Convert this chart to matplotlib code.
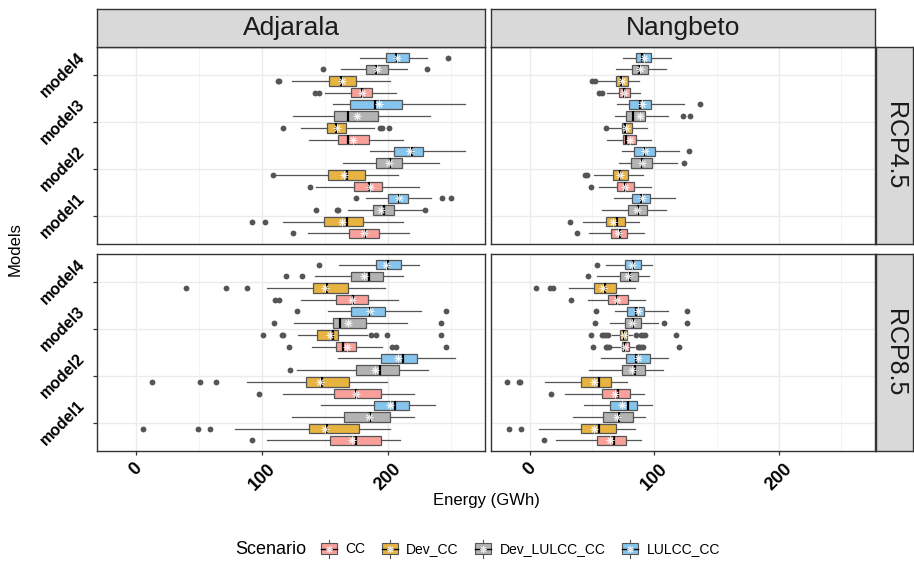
import matplotlib
matplotlib.use('Agg')
import matplotlib.pyplot as plt
from matplotlib.patches import Patch, Rectangle
from matplotlib.lines import Line2D
from matplotlib.legend_handler import HandlerBase

plt.rcParams['font.family'] = ['Liberation Sans', 'DejaVu Sans']

SITES = ['Adjarala', 'Nangbeto']
RCPS = ['RCP4.5', 'RCP8.5']
MODELS = ['model1', 'model2', 'model3', 'model4']
SCENARIOS = ['CC', 'Dev_CC', 'Dev_LULCC_CC', 'LULCC_CC']
COLORS = ['#F9A09B', '#E8B441', '#B3B3B3', '#86C6EE']
X_TICKS = [0, 100, 200]

# rows: model1..model4 ; columns: CC, Dev_CC, Dev_LULCC_CC, LULCC_CC
# ---------------- Adjarala RCP4.5 ----------------
A45_LO = [[136.3, 116.9, 168.4, 182.7], [142.9, 110.0, 164.1, 185.4], [137.3, 130.7, 124.3, 156.2], [149.8, 123.5, 162.8, 178.0]]
A45_Q1 = [[169.2, 149.5, 188.0, 200.0], [173.2, 152.5, 190.7, 204.5], [160.2, 151.4, 157.2, 170.0], [170.5, 153.0, 182.7, 198.7]]
A45_MED = [[181.9, 167.3, 196.5, 208.5], [184.6, 167.3, 201.9, 219.4], [167.9, 158.8, 168.4, 189.4], [179.3, 162.8, 190.7, 206.4]]
A45_Q3 = [[193.1, 180.0, 204.5, 216.0], [195.5, 181.4, 211.4, 227.9], [185.1, 166.8, 191.8, 210.9], [187.5, 174.8, 200.0, 216.5]]
A45_HI = [[216.5, 211.7, 226.6, 234.5], [225.0, 208.0, 240.6, 261.0], [212.0, 188.6, 233.7, 261.0], [206.6, 201.3, 215.1, 231.0]]
A45_MEAN = [[180.6, 163.3, 194.7, 208.8], [185.4, 165.2, 201.0, 217.8], [172.1, 159.5, 175.3, 192.6], [179.5, 163.5, 191.0, 207.0]]
A45_OUT = [[[124.3], [92.2, 102.5], [142.9, 159.9, 160.7, 229.7], [174.8, 242.5, 249.7]],
           [[138.4], [108.5], [], []],
           [[], [116.3, 193.4, 195.0, 200.5], [], []],
           [[142.0, 145.3], [112.4, 113.7], [148.7, 231.0], [247.5]]]

# ---------------- Nangbeto RCP4.5 ----------------
N45_LO = [[47.8, 42.5, 58.4, 67.7], [55.8, 51.8, 71.7, 74.4], [62.4, 64.0, 68.8, 69.9], [62.2, 53.1, 69.3, 75.2]]
N45_Q1 = [[65.1, 61.1, 79.1, 82.3], [70.1, 66.7, 81.5, 83.7], [74.6, 73.8, 77.0, 79.7], [72.0, 69.1, 81.8, 85.5]]
N45_MED = [[72.2, 69.9, 86.6, 89.0], [76.5, 72.2, 90.0, 92.4], [77.0, 76.5, 82.9, 88.4], [75.7, 73.6, 87.6, 90.3]]
N45_Q3 = [[78.1, 76.2, 94.3, 96.7], [83.7, 79.1, 98.3, 100.7], [85.0, 82.3, 92.7, 97.7], [80.7, 79.1, 94.6, 97.5]]
N45_HI = [[91.9, 87.9, 109.7, 116.3], [97.5, 91.1, 118.5, 119.5], [97.0, 94.0, 111.3, 124.0], [88.4, 87.9, 109.7, 113.4]]
N45_MEAN = [[71.2, 67.2, 86.1, 89.8], [76.2, 72.5, 89.8, 92.9], [80.2, 77.6, 88.2, 89.8], [76.0, 74.4, 88.2, 91.6]]
N45_OUT = [[[37.7], [32.1], [], []],
           [[49.4], [44.4, 45.7], [123.8], [127.8]],
           [[], [61.1], [123.0, 128.8], [137.0]],
           [[55.8, 58.4], [49.9, 52.6], [], []]]

# ---------------- Adjarala RCP8.5 ----------------
A85_LO = [[104.1, 78.4, 124.0, 146.9], [116.3, 88.4, 127.5, 160.2], [139.4, 128.3, 125.4, 152.7], [130.7, 104.1, 142.4, 161.2]]
A85_Q1 = [[154.0, 137.3, 165.2, 188.6], [157.2, 134.9, 174.8, 194.7], [158.8, 143.4, 156.4, 170.5], [158.8, 140.8, 171.0, 190.2]]
A85_MED = [[174.5, 151.9, 185.4, 205.8], [174.8, 147.9, 193.4, 212.0], [163.9, 156.6, 162.0, 185.9], [172.1, 151.9, 184.6, 199.7]]
A85_Q3 = [[194.2, 177.2, 201.9, 216.5], [194.7, 168.9, 209.0, 223.1], [174.5, 160.7, 182.7, 197.9], [183.8, 167.9, 195.7, 210.4]]
A85_HI = [[209.8, 201.9, 220.5, 237.2], [220.5, 199.2, 231.6, 253.1], [195.2, 183.0, 215.1, 226.3], [208.0, 197.3, 212.0, 225.0]]
A85_MEAN = [[171.3, 150.0, 184.6, 201.9], [174.8, 146.1, 189.4, 208.0], [167.3, 154.0, 167.9, 185.4], [171.3, 150.0, 180.6, 198.7]]
A85_OUT = [[[92.4], [5.3, 49.1, 58.4], [], []],
           [[97.7], [12.5, 50.5, 63.2], [122.2], []],
           [[121.6, 202.9, 206.6, 246.2], [100.7, 115.8, 116.9, 186.5, 190.7, 199.2, 242.2], [109.7, 242.2], [128.0, 246.2]],
           [[110.2, 113.7], [39.6, 71.7, 88.2], [118.7, 131.5], [145.0]]]

# ---------------- Nangbeto RCP8.5 ----------------
N85_LO = [[21.2, 7.2, 35.0, 43.3], [28.7, 12.5, 47.8, 57.4], [66.4, 66.4, 64.3, 68.8], [47.0, 31.3, 53.7, 61.6]]
N85_Q1 = [[53.7, 41.4, 59.2, 64.8], [58.4, 40.9, 74.1, 77.5], [73.8, 72.8, 76.2, 77.8], [62.7, 51.8, 72.5, 76.5]]
N85_MED = [[67.7, 55.8, 71.7, 78.6], [71.2, 55.8, 84.2, 85.0], [76.5, 75.4, 82.9, 85.0], [70.4, 60.6, 80.2, 82.9]]
N85_Q3 = [[77.6, 69.1, 83.1, 86.3], [80.7, 65.1, 92.7, 96.7], [79.4, 78.1, 89.0, 91.9], [79.1, 69.6, 87.1, 89.0]]
N85_HI = [[89.0, 84.2, 92.7, 98.0], [91.9, 77.8, 106.8, 111.0], [83.7, 82.3, 102.8, 110.8], [92.4, 84.5, 95.6, 98.5]]
N85_MEAN = [[64.3, 52.0, 69.9, 74.4], [68.5, 51.3, 81.8, 87.1], [76.5, 75.4, 82.4, 86.6], [70.4, 59.2, 79.1, 81.8]]
N85_OUT = [[[11.5], [-16.5, -6.6], [], []],
           [[17.0], [-18.0, -8.8, -7.4], [], []],
           [[50.5, 61.1, 62.4, 63.7, 86.9, 88.1, 89.5, 90.8, 119.8],
            [49.1, 58.4, 60.0, 61.6, 63.2, 85.0, 89.0, 90.8, 92.4, 117.7],
            [52.1, 107.6, 125.9], [53.4, 125.9]],
           [[32.9], [4.8, 16.5, 18.6], [46.7], [53.9]]]

PANELS = {
    ('Adjarala', 'RCP4.5'): (A45_LO, A45_Q1, A45_MED, A45_Q3, A45_HI, A45_MEAN, A45_OUT),
    ('Nangbeto', 'RCP4.5'): (N45_LO, N45_Q1, N45_MED, N45_Q3, N45_HI, N45_MEAN, N45_OUT),
    ('Adjarala', 'RCP8.5'): (A85_LO, A85_Q1, A85_MED, A85_Q3, A85_HI, A85_MEAN, A85_OUT),
    ('Nangbeto', 'RCP8.5'): (N85_LO, N85_Q1, N85_MED, N85_Q3, N85_HI, N85_MEAN, N85_OUT),
}

W, H = 914, 563
fig = plt.figure(figsize=(W / 100, H / 100), dpi=100)

def fbox(x0, y0, x1, y1):
    return [x0 / W, 1 - y1 / H, (x1 - x0) / W, (y1 - y0) / H]

COL_X = [(97, 485), (491, 875)]
ROW_Y = [(47, 244), (254, 451)]
EDGE = '#333333'
BOXEDGE = '#555555'
OFFSETS = [-0.375, -0.125, 0.125, 0.375]
MEANPROPS = dict(marker=(8, 2, 0), markeredgecolor='white', markerfacecolor='white',
                 markersize=5.5, markeredgewidth=0.7, alpha=0.85)

for ri, rcp in enumerate(RCPS):
    for ci, site in enumerate(SITES):
        x0, x1 = COL_X[ci]
        y0, y1 = ROW_Y[ri]
        ax = fig.add_axes(fbox(x0, y0, x1, y1))
        lo, q1, med, q3, hi, mean, out = PANELS[(site, rcp)]
        ax.set_axisbelow(True)
        for si, sc in enumerate(SCENARIOS):
            stats = []
            pos = []
            for mi in range(len(MODELS)):
                stats.append(dict(whislo=lo[mi][si], q1=q1[mi][si], med=med[mi][si],
                                  q3=q3[mi][si], whishi=hi[mi][si], mean=mean[mi][si],
                                  fliers=out[mi][si]))
                pos.append(mi + 1 + OFFSETS[si])
            ax.bxp(stats, positions=pos, widths=0.2, orientation='horizontal',
                   patch_artist=True, showmeans=True, showcaps=False, manage_ticks=False,
                   boxprops=dict(facecolor=COLORS[si], edgecolor=BOXEDGE, linewidth=0.9),
                   medianprops=dict(color='black', linewidth=1.6),
                   whiskerprops=dict(color=BOXEDGE, linewidth=0.9),
                   flierprops=dict(marker='o', markerfacecolor='#555555',
                                   markeredgecolor='none', markersize=4.2),
                   meanprops=MEANPROPS)
        ax.set_xlim(-31, 277)
        ax.set_ylim(0.4, 4.6)
        ax.set_xticks(X_TICKS)
        ax.set_xticks([50, 150, 250], minor=True)
        ax.set_yticks(range(1, len(MODELS) + 1))
        ax.grid(True, which='major', color='#EBEBEB', linewidth=1.0)
        ax.grid(True, which='minor', axis='x', color='#F2F2F2', linewidth=0.6)
        ax.tick_params(which='minor', length=0)
        ax.tick_params(which='major', length=3, color=EDGE, width=0.9)
        for sp in ax.spines.values():
            sp.set_color(EDGE)
            sp.set_linewidth(1.0)
        if ci == 0:
            ax.set_yticklabels(MODELS, rotation=45, fontsize=11.5, fontweight='bold',
                               ha='right', va='center')
        else:
            ax.tick_params(axis='y', left=False, labelleft=False)
        if ri == 1:
            ax.set_xticklabels([str(t) for t in X_TICKS], rotation=45, fontsize=13,
                               fontweight='bold', ha='center', va='top')
        else:
            ax.tick_params(axis='x', bottom=False, labelbottom=False)

        if ri == 0:
            sax = fig.add_axes(fbox(x0, 9, x1, 47))
            sax.set_xticks([]); sax.set_yticks([])
            sax.set_facecolor('#D9D9D9')
            for sp in sax.spines.values():
                sp.set_color(EDGE); sp.set_linewidth(1.0)
            sax.text(0.5, 0.5, site, ha='center', va='center', fontsize=19,
                     color='#1A1A1A', transform=sax.transAxes)
        if ci == 1:
            rax = fig.add_axes(fbox(876, y0, 913, y1))
            rax.set_xticks([]); rax.set_yticks([])
            rax.set_facecolor('#D9D9D9')
            for sp in rax.spines.values():
                sp.set_color(EDGE); sp.set_linewidth(1.0)
            rax.text(0.5, 0.5, rcp, ha='center', va='center', fontsize=18,
                     rotation=-90, color='#1A1A1A', transform=rax.transAxes)

fig.text(486 / W, 1 - 500 / H, 'Energy (GWh)', ha='center', va='center', fontsize=12)
fig.text(15 / W, 1 - 249 / H, 'Models', ha='center', va='center', fontsize=12, rotation=90)


class BoxKey(HandlerBase):
    def create_artists(self, legend, orig_handle, xdescent, ydescent, width, height,
                       fontsize, trans):
        fc = orig_handle.get_facecolor()
        x0, y0 = -xdescent, -ydescent
        cx, cy = x0 + width / 2, y0 + height / 2
        whisk = Line2D([cx, cx], [y0 - 1.5, y0 + height + 1.5], color=BOXEDGE, lw=0.8)
        box = Rectangle((x0, y0 + height * 0.1), width, height * 0.8,
                        facecolor=fc, edgecolor=BOXEDGE, lw=0.8)
        medl = Line2D([x0, x0 + width], [cy, cy], color='black', lw=1.0)
        mk = Line2D([cx], [cy], linestyle='none', **dict(MEANPROPS, markersize=5))
        arts = [whisk, box, medl, mk]
        for a in arts:
            a.set_transform(trans)
        return arts


fig.text(235 / W, 1 - 549 / H, 'Scenario', ha='left', va='center', fontsize=13)
handles = [Patch(facecolor=c, edgecolor=BOXEDGE, linewidth=0.9) for c in COLORS]
fig.legend(handles, SCENARIOS, ncol=4, loc='center left',
           bbox_to_anchor=(321 / W, 1 - 549 / H), frameon=False, fontsize=10,
           handlelength=1.15, handleheight=1.15, handletextpad=0.6, columnspacing=1.2,
           borderaxespad=0, borderpad=0, handler_map={Patch: BoxKey()})

fig.savefig('out.png', dpi=100)
